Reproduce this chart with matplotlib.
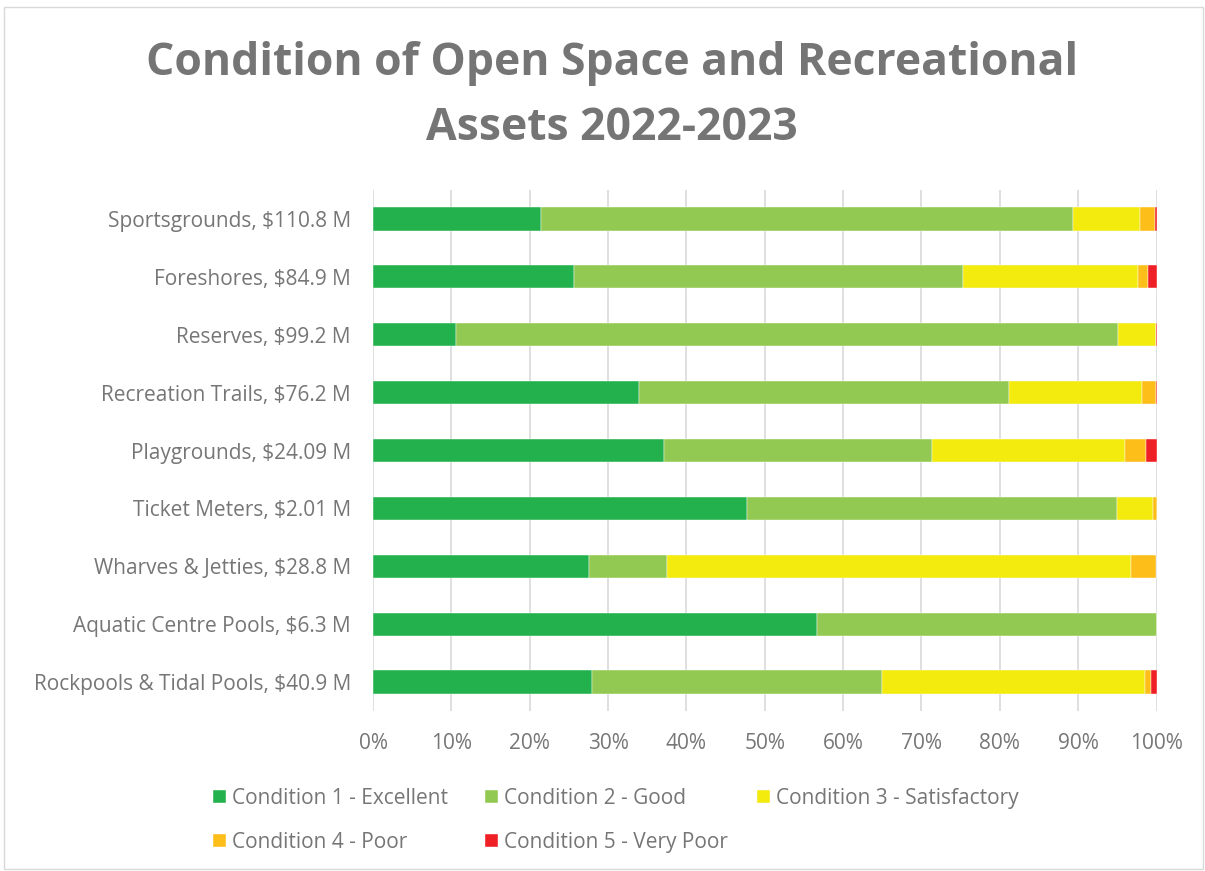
import matplotlib
matplotlib.use("Agg")
import matplotlib.pyplot as plt
import numpy as np
from matplotlib.patches import Rectangle

categories = ["Sportsgrounds, $110.8 M", "Foreshores, $84.9 M", "Reserves, $99.2 M",
              "Recreation Trails, $76.2 M", "Playgrounds, $24.09 M", "Ticket Meters, $2.01 M",
              "Wharves & Jetties, $28.8 M", "Aquatic Centre Pools, $6.3 M",
              "Rockpools & Tidal Pools, $40.9 M"]
excellent = [21.5, 25.6, 10.6, 33.9, 37.2, 47.7, 27.6, 56.7, 27.9]
good = [67.8, 49.7, 84.5, 47.3, 34.1, 47.3, 9.9, 43.3, 37.1]
satisfactory = [8.6, 22.4, 4.8, 16.9, 24.7, 4.5, 59.2, 0.0, 33.5]
poor = [1.9, 1.2, 0.0, 1.8, 2.6, 0.5, 3.3, 0.0, 0.8]
very_poor = [0.2, 1.1, 0.1, 0.1, 1.4, 0.0, 0.0, 0.0, 0.7]

series = [("Condition 1 - Excellent", excellent, "#22B14C"),
          ("Condition 2 - Good", good, "#92C953"),
          ("Condition 3 - Satisfactory", satisfactory, "#F3EA0E"),
          ("Condition 4 - Poor", poor, "#FDBE1A"),
          ("Condition 5 - Very Poor", very_poor, "#EE1F25")]

TXT = "#767676"
plt.rcParams["font.family"] = ["Open Sans", "DejaVu Sans"]
W, H = 1205, 871
fig = plt.figure(figsize=(W / 100, H / 100), dpi=100, facecolor="white")
ax = fig.add_axes([373 / W, 1 - 711 / H, (1156.5 - 373) / W, 521 / H])

y = np.arange(len(categories))
left = np.zeros(len(categories))
handles = []
for name, vals, col in series:
    vals = np.array(vals)
    b = ax.barh(y, vals, left=left, height=0.4, color=col, label=name,
                edgecolor="white", linewidth=0.3, zorder=3)
    handles.append(b)
    left += vals

ax.set_ylim(len(categories) - 0.5, -0.5)
ax.set_xlim(0, 100)
ax.set_yticks(y)
ax.set_yticklabels(categories, fontsize=15, color=TXT)
ax.set_xticks(np.arange(0, 101, 10))
ax.set_xticklabels([f"{v}%" for v in range(0, 101, 10)], fontsize=15, color=TXT)
ax.tick_params(axis="both", length=0)
ax.tick_params(axis="x", pad=16)
ax.tick_params(axis="y", pad=16)
ax.grid(axis="x", color="#D9D9D9", linewidth=1.2, zorder=0)
for s in ax.spines.values():
    s.set_visible(False)

fig.text(0.508, 1 - 63 / H, "Condition of Open Space and Recreational", ha="center", va="center",
         fontsize=32, fontweight="bold", color="#757575")
fig.text(0.508, 1 - 128 / H, "Assets 2022-2023", ha="center", va="center",
         fontsize=32, fontweight="bold", color="#757575")

# legend laid out row by row, like the original
legend_pos = [(203, 798), (475, 798), (747, 798), (203, 842), (475, 842)]
for h, (name, _, _), (lx, ly) in zip(handles, series, legend_pos):
    fig.legend([h], [name], loc="center left", bbox_to_anchor=(lx / W, 1 - ly / H),
               frameon=False, fontsize=15, labelcolor=TXT, borderpad=0,
               handlelength=0.6, handleheight=0.6, handletextpad=0.3)

fig.add_artist(Rectangle((4 / W, 0.002), (W - 6) / W, 1 - 9 / H, transform=fig.transFigure,
                         fill=False, edgecolor="#D9D9D9", linewidth=1))

fig.savefig("out.png", dpi=100, facecolor="white")
